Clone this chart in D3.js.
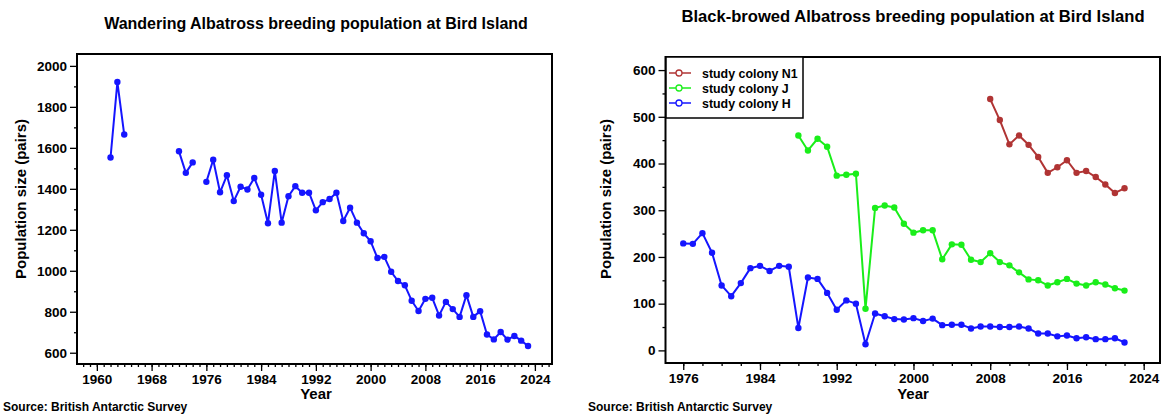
<!DOCTYPE html>
<html>
<head>
<meta charset="utf-8">
<script src="https://cdn.jsdelivr.net/npm/d3@7"></script>
<style>
  body { margin: 0; background: #fff; }
  text { font-family: "Liberation Sans", Arial, Helvetica, sans-serif; font-weight: bold; fill: #000; }
</style>
</head>
<body>
<svg id="chart" width="1164" height="414"></svg>
<script>
// Wandering albatross, Bird Island (pairs); null = no count that year
var waYears = [1962, 1963, 1964, 1965, 1966, 1967, 1968, 1969, 1970, 1971, 1972, 1973, 1974, 1975,
  1976, 1977, 1978, 1979, 1980, 1981, 1982, 1983, 1984, 1985, 1986, 1987, 1988, 1989, 1990, 1991,
  1992, 1993, 1994, 1995, 1996, 1997, 1998, 1999, 2000, 2001, 2002, 2003, 2004, 2005, 2006, 2007,
  2008, 2009, 2010, 2011, 2012, 2013, 2014, 2015, 2016, 2017, 2018, 2019, 2020, 2021, 2022, 2023]
var waPairs = [1553, 1921, 1665, null, null, null, null, null, null, null, 1583, 1478, 1529, null,
  1434, 1542, 1383, 1466, 1340, 1410, 1397, 1453, 1371, 1232, 1487, 1235, 1364, 1413, 1381, 1381,
  1295, 1335, 1350, 1381, 1243, 1308, 1235, 1183, 1144, 1062, 1068, 995, 950, 929, 854, 804,
  863, 868, 782, 848, 813, 775, 881, 775, 803, 689, 665, 701, 664, 682, 659, 633]

// Black-browed albatross study colonies
var bbYears = [1976, 1977, 1978, 1979, 1980, 1981, 1982, 1983, 1984, 1985, 1986, 1987, 1988, 1989,
  1990, 1991, 1992, 1993, 1994, 1995, 1996, 1997, 1998, 1999, 2000, 2001, 2002, 2003, 2004, 2005,
  2006, 2007, 2008, 2009, 2010, 2011, 2012, 2013, 2014, 2015, 2016, 2017, 2018, 2019, 2020, 2021, 2022]
var colonyH = [229, 228, 251, 209, 139, 116, 144, 176, 181, 170, 181, 179, 48, 156,
  153, 123, 87, 107, 100, 13, 79, 73, 67, 66, 69, 63, 68, 54, 55, 55,
  47, 51, 51, 50, 50, 51, 47, 36, 36, 30, 32, 26, 28, 24, 24, 26, 17]
var colonyJ = [null, null, null, null, null, null, null, null, null, null, null, null, 460, 428,
  453, 436, 374, 376, 378, 89, 305, 310, 306, 271, 252, 257, 257, 195, 227, 226,
  194, 189, 208, 189, 182, 167, 152, 150, 139, 146, 153, 143, 139, 146, 141, 133, 128]
var colonyN1 = [null, null, null, null, null, null, null, null, null, null, null, null, null, null,
  null, null, null, null, null, null, null, null, null, null, null, null, null, null, null, null,
  null, null, 538, 493, 441, 460, 440, 414, 380, 392, 407, 380, 384, 371, 355, 337, 347]

var seriesNames = ['study colony N1', 'study colony J', 'study colony H']
var seriesColors = ['#b03434', '#1aee1a', '#1515ff']

var waMajorY = [600, 800, 1000, 1200, 1400, 1600, 1800, 2000]
var waMinorY = [700, 900, 1100, 1300, 1500, 1700, 1900]
var waMajorX = [1960, 1968, 1976, 1984, 1992, 2000, 2008, 2016, 2024]
var bbMajorY = [0, 100, 200, 300, 400, 500, 600]
var bbMinorY = [50, 150, 250, 350, 450, 550]
var bbMajorX = [1976, 1984, 1992, 2000, 2008, 2016, 2024]

var svg = d3.select('#chart')

function toPoints (years, vals) {
  return years.map(function (y, i) { return {year: y, v: vals[i]} })
}

function drawFrame (g, x, y, majX, minX, majY, minY) {
  var xr = x.range(), yr = y.range()
  g.append('g')
    .attr('transform', 'translate(0,' + yr[0] + ')')
    .call(d3.axisBottom(x).tickValues(minX).tickSize(3).tickFormat(''))
    .call(function (a) { a.select('.domain').remove() })
  g.append('g')
    .attr('transform', 'translate(0,' + yr[0] + ')')
    .call(d3.axisBottom(x).tickValues(majX).tickSize(7).tickPadding(3).tickFormat(d3.format('d')))
    .call(function (a) { a.select('.domain').remove() })
    .selectAll('text').style('font-size', '13.5px')
  g.append('g')
    .attr('transform', 'translate(' + xr[0] + ',0)')
    .call(d3.axisLeft(y).tickValues(minY).tickSize(3).tickFormat(''))
    .call(function (a) { a.select('.domain').remove() })
  g.append('g')
    .attr('transform', 'translate(' + xr[0] + ',0)')
    .call(d3.axisLeft(y).tickValues(majY).tickSize(7).tickPadding(3).tickFormat(d3.format('d')))
    .call(function (a) { a.select('.domain').remove() })
    .selectAll('text').style('font-size', '13.5px')
  g.selectAll('.tick line').attr('stroke', '#000').attr('stroke-width', 1.3)
  g.append('rect')
    .attr('x', xr[0]).attr('y', yr[1])
    .attr('width', xr[1] - xr[0]).attr('height', yr[0] - yr[1])
    .attr('fill', 'none').attr('stroke', '#000').attr('stroke-width', 2)
}

function drawSeries (g, x, y, pts, color) {
  var line = d3.line()
    .defined(function (d) { return d.v != null })
    .x(function (d) { return x(d.year) })
    .y(function (d) { return y(d.v) })
  g.append('path').datum(pts)
    .attr('d', line)
    .attr('fill', 'none').attr('stroke', color).attr('stroke-width', 2)
    .attr('stroke-linejoin', 'round')
  g.selectAll(null)
    .data(pts.filter(function (d) { return d.v != null }))
    .enter().append('circle')
    .attr('cx', function (d) { return x(d.year) })
    .attr('cy', function (d) { return y(d.v) })
    .attr('r', 3.2)
    .attr('fill', color)
}

function labels (g, cx, cy, axX, title, titleY, titleSize) {
  g.append('text').attr('x', cx).attr('y', titleY)
    .attr('text-anchor', 'middle').style('font-size', titleSize + 'px').text(title)
  g.append('text').attr('x', cx).attr('y', 399)
    .attr('text-anchor', 'middle').style('font-size', '15px').text('Year')
  g.append('text')
    .attr('transform', 'translate(' + axX + ',' + cy + ') rotate(-90)')
    .attr('text-anchor', 'middle').style('font-size', '15px').text('Population size (pairs)')
}

// left panel
var xL = d3.scaleLinear().domain([1957.1, 2026.5]).range([77, 552])
var yL = d3.scaleLinear().domain([545, 2058]).range([364, 54])
var gL = svg.append('g')
drawFrame(gL, xL, yL, waMajorX, d3.range(1958, 2027), waMajorY, waMinorY)
drawSeries(gL, xL, yL, toPoints(waYears, waPairs), '#1515ff')
labels(gL, 316, 199, 26, 'Wandering Albatross breeding population at Bird Island', 29, 16)
gL.append('text').attr('x', 3).attr('y', 411).style('font-size', '12px').text('Source: British Antarctic Survey')

// right panel
var xR = d3.scaleLinear().domain([1974.15, 2025.7]).range([665.5, 1160])
var yR = d3.scaleLinear().domain([-27, 628]).range([363, 57])
var gR = svg.append('g')
drawFrame(gR, xR, yR, bbMajorX, d3.range(1976, 2025, 2), bbMajorY, bbMinorY)
var bbSeries = [colonyN1, colonyJ, colonyH]
bbSeries.forEach(function (vals, i) {
  drawSeries(gR, xR, yR, toPoints(bbYears, vals), seriesColors[i])
})
labels(gR, 913, 199, 611, 'Black-browed Albatross breeding population at Bird Island', 22, 16.6)
gR.append('text').attr('x', 588).attr('y', 411).style('font-size', '12px').text('Source: British Antarctic Survey')

// legend
var lg = gR.append('g').attr('transform', 'translate(666,57)')
lg.append('rect').attr('width', 137).attr('height', 61)
  .attr('fill', '#fff').attr('stroke', '#000').attr('stroke-width', 1.5)
var rows = lg.selectAll('g.row').data(seriesNames).enter().append('g')
  .attr('class', 'row')
  .attr('transform', function (d, i) { return 'translate(0,' + (16 + i * 15) + ')' })
rows.append('line').attr('x1', 3).attr('x2', 25)
  .attr('stroke', function (d, i) { return seriesColors[i] }).attr('stroke-width', 1.5)
rows.append('circle').attr('cx', 13).attr('r', 3)
  .attr('fill', '#fff').attr('stroke', function (d, i) { return seriesColors[i] }).attr('stroke-width', 1.3)
rows.append('text').attr('x', 36).attr('y', 4.5).style('font-size', '12.4px').text(function (d) { return d })
</script>
</body>
</html>
